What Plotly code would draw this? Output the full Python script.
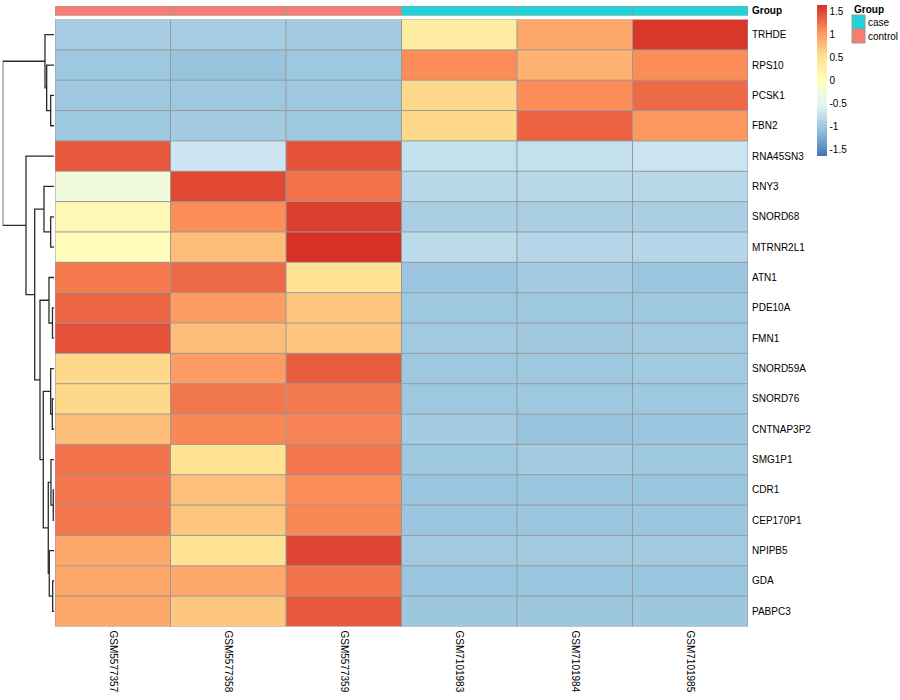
import plotly.graph_objects as go

# ---------------- data ----------------
samples = ["GSM5577357", "GSM5577358", "GSM5577359", "GSM7101983", "GSM7101984", "GSM7101985"]
groups = ["control", "control", "control", "case", "case", "case"]
genes = ["TRHDE", "RPS10", "PCSK1", "FBN2", "RNA45SN3", "RNY3", "SNORD68", "MTRNR2L1",
         "ATN1", "PDE10A", "FMN1", "SNORD59A", "SNORD76", "CNTNAP3P2", "SMG1P1", "CDR1",
         "CEP170P1", "NPIPB5", "GDA", "PABPC3"]
values = [
    [-0.95, -0.95, -0.97, 0.34, 0.92, 1.60],
    [-1.00, -1.05, -1.00, 1.10, 0.85, 1.10],
    [-1.00, -1.00, -1.00, 0.60, 1.10, 1.30],
    [-1.00, -0.97, -1.00, 0.60, 1.35, 1.02],
    [1.40, -0.68, 1.45, -0.75, -0.75, -0.70],
    [-0.26, 1.50, 1.25, -0.83, -0.83, -0.83],
    [0.12, 1.10, 1.55, -0.92, -0.92, -0.92],
    [0.05, 0.78, 1.64, -0.80, -0.85, -0.85],
    [1.20, 1.30, 0.50, -1.02, -0.97, -1.02],
    [1.33, 1.00, 0.72, -1.00, -1.00, -1.00],
    [1.45, 0.78, 0.72, -0.98, -0.99, -0.98],
    [0.60, 1.00, 1.38, -1.00, -1.00, -0.98],
    [0.60, 1.22, 1.20, -1.00, -1.00, -1.00],
    [0.77, 1.12, 1.15, -0.97, -1.05, -1.02],
    [1.25, 0.50, 1.22, -1.00, -0.97, -1.00],
    [1.23, 0.76, 1.10, -1.03, -1.03, -1.03],
    [1.23, 0.72, 1.12, -1.02, -1.02, -1.02],
    [0.92, 0.50, 1.52, -0.98, -0.98, -0.98],
    [0.92, 0.92, 1.25, -1.03, -1.03, -1.03],
    [0.92, 0.72, 1.40, -1.01, -1.01, -1.01],
]
# row dendrogram: (merge height, left, right)
tree = (51.6,
        (9.3, "TRHDE", (7.6, "RPS10", (3.6, "PCSK1", "FBN2"))),
        (28.3, "RNA45SN3",
         (19.6,
          (10.3, "RNY3", (3.6, "SNORD68", "MTRNR2L1")),
          (14.3,
           (5.3, "ATN1", (1.8, "PDE10A", "FMN1")),
           (11.0,
            (3.6, "SNORD59A", (2.0, "SNORD76", "CNTNAP3P2")),
            (6.0,
             (3.3, "SMG1P1", (1.0, "CDR1", "CEP170P1")),
             (5.0, "NPIPB5", (1.6, "GDA", "PABPC3"))))))))
cbar_ticks = [-1.5, -1, -0.5, 0, 0.5, 1, 1.5]
zlim = 1.64
group_colors = {"case": "#1FD3D9", "control": "#F97C73"}
group_levels = ["case", "control"]

# ---------------- styling ----------------
FONT = "Liberation Sans, Arial, Helvetica, sans-serif"
GRID = "#999999"
W, H = 900, 700
hm_left, hm_right = 55, 748
hm_top, hm_bot = 19.5, 626.5
ann_top, ann_bot = 6, 15.5
den_left = 2.7

rdylbu = ["#4575B4", "#91BFDB", "#E0F3F8", "#FFFFBF", "#FEE090", "#FC8D59", "#D73027"]
colorscale = [[i / (len(rdylbu) - 1), c] for i, c in enumerate(rdylbu)]

nrow, ncol = len(genes), len(samples)
fig = go.Figure()

# main heatmap
fig.add_trace(go.Heatmap(
    z=values, x=list(range(ncol)), y=list(range(nrow)),
    colorscale=colorscale, zmin=-zlim, zmax=zlim,
    xaxis="x", yaxis="y",
    colorbar=dict(
        x=817 / W, xanchor="left", y=1 - 5 / H, yanchor="top",
        lenmode="pixels", len=2 * zlim * 46, thickness=10,
        thicknessmode="pixels", outlinewidth=0, xpad=0, ypad=0,
        tickvals=cbar_ticks, ticktext=[f"{t:g}" for t in cbar_ticks],
        ticks="", tickfont=dict(size=10, family=FONT, color="#000"),
    ),
))

# grid lines for heatmap cells
gx, gy = [], []
for i in range(nrow + 1):
    gx += [-0.5, ncol - 0.5, None]
    gy += [i - 0.5, i - 0.5, None]
for j in range(ncol + 1):
    gx += [j - 0.5, j - 0.5, None]
    gy += [-0.5, nrow - 0.5, None]
fig.add_trace(go.Scatter(x=gx, y=gy, mode="lines", line=dict(color=GRID, width=1),
                         xaxis="x", yaxis="y", showlegend=False, hoverinfo="skip"))

# annotation bar
gcode = [[group_levels.index(g) for g in groups]]
fig.add_trace(go.Heatmap(
    z=gcode, x=list(range(ncol)), y=[0], xaxis="x", yaxis="y3",
    colorscale=[[0, group_colors["case"]], [0.5, group_colors["case"]],
                [0.5, group_colors["control"]], [1, group_colors["control"]]],
    zmin=0, zmax=1, showscale=False,
))
ax_, ay_ = [], []
for i in range(2):
    ax_ += [-0.5, ncol - 0.5, None]
    ay_ += [i - 0.5, i - 0.5, None]
for j in range(ncol + 1):
    ax_ += [j - 0.5, j - 0.5, None]
    ay_ += [-0.5, 0.5, None]
fig.add_trace(go.Scatter(x=ax_, y=ay_, mode="lines", line=dict(color=GRID, width=1),
                         xaxis="x", yaxis="y3", showlegend=False, hoverinfo="skip"))

# dendrogram
pos = {g: i for i, g in enumerate(genes)}
dx, dy = [], []


def walk(node):
    if isinstance(node, str):
        return 0.0, pos[node]
    h, l, r = node
    hl, yl = walk(l)
    hr, yr = walk(r)
    dx.extend([hl, h, h, hr, None])
    dy.extend([yl, yl, yr, yr, None])
    return h, (yl + yr) / 2


walk(tree)
fig.add_trace(go.Scatter(x=dx, y=dy, mode="lines", line=dict(color="#2b2b2b", width=1.3),
                         xaxis="x2", yaxis="y", showlegend=False, hoverinfo="skip"))

yb = 1 - hm_bot / H
yt = 1 - hm_top / H
fig.update_layout(
    width=W, height=H, margin=dict(l=0, r=0, t=0, b=0, autoexpand=False),
    paper_bgcolor="white", plot_bgcolor="white", showlegend=False,
    font=dict(family=FONT, size=10, color="#000"),
    xaxis=dict(domain=[hm_left / W, hm_right / W], range=[-0.5, ncol - 0.5],
               tickvals=list(range(ncol)), ticktext=samples, tickangle=90,
               ticks="", showgrid=False, zeroline=False, showline=False, automargin=False,
               ticklabelstandoff=3,
               tickfont=dict(size=10, family=FONT), anchor="y", fixedrange=True),
    yaxis=dict(domain=[yb, yt], range=[nrow - 0.5, -0.5], tickvals=list(range(nrow)),
               ticktext=genes, side="right", ticks="", showgrid=False, zeroline=False,
               showline=False, anchor="x", automargin=False, ticklabelstandoff=3,
               tickfont=dict(size=10, family=FONT)),
    xaxis2=dict(domain=[den_left / W, hm_left / W - 0.0008], range=[tree[0], 0],
                visible=False, anchor="y", automargin=False),
    yaxis3=dict(domain=[1 - ann_bot / H, 1 - ann_top / H], range=[-0.5, 0.5],
                tickvals=[0], ticktext=["<b>Group</b>"], side="right", ticks="",
                showgrid=False, zeroline=False, anchor="x", automargin=False,
                ticklabelstandoff=3, tickfont=dict(size=10, family=FONT)),
)

# group legend
lx0, lx1 = 852, 865
fig.add_annotation(x=lx0 / W, y=1 - 9 / H, xref="paper", yref="paper", text="<b>Group</b>",
                   showarrow=False, xanchor="left", yanchor="middle",
                   font=dict(size=10, family=FONT))
for k, g in enumerate(group_levels):
    y0 = 15 + k * 14
    fig.add_shape(type="rect", xref="paper", yref="paper",
                  x0=lx0 / W, x1=lx1 / W, y0=1 - (y0 + 14) / H, y1=1 - y0 / H,
                  fillcolor=group_colors[g], line=dict(color=GRID, width=1))
    fig.add_annotation(x=(lx1 + 1) / W, y=1 - (y0 + 8) / H, xref="paper", yref="paper",
                       text=g, showarrow=False, xanchor="left", yanchor="middle",
                       font=dict(size=10, family=FONT))

fig.write_html("out.html", config={"displayModeBar": False},
               post_script="document.body.style.margin='0';document.body.style.padding='0';")
